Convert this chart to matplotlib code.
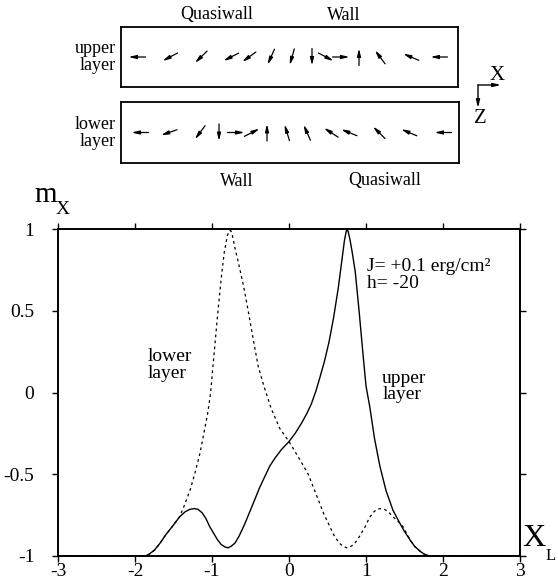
import numpy as np
import matplotlib
matplotlib.use("Agg")
import matplotlib.pyplot as plt

plt.rcParams['font.family'] = ['Liberation Serif', 'DejaVu Serif']
plt.rcParams['axes.unicode_minus'] = False

# m_x profile of the upper layer (solid) and lower layer (dashed) vs X_L
upper_x = [-3.0, -1.87, -1.82, -1.75, -1.68, -1.6, -1.5, -1.42, -1.35, -1.29, -1.23,
           -1.18, -1.13, -1.08, -1.03, -0.98, -0.93, -0.88, -0.83, -0.79, -0.75, -0.70,
           -0.65, -0.58, -0.51, -0.44, -0.38, -0.31, -0.25, -0.18, -0.10, 0.0, 0.08,
           0.16, 0.23, 0.29, 0.35, 0.40, 0.46, 0.52, 0.58, 0.64, 0.69, 0.72, 0.745,
           0.765, 0.79, 0.82, 0.86, 0.91, 0.96, 1.0, 1.05, 1.11, 1.18, 1.26, 1.35,
           1.44, 1.50, 1.57, 1.63, 1.70, 1.76, 1.83, 3.0]
upper_m = [-1.0, -1.0, -0.99, -0.965, -0.925, -0.87, -0.81, -0.76, -0.73, -0.715, -0.71,
           -0.715, -0.735, -0.77, -0.82, -0.86, -0.90, -0.93, -0.945, -0.95, -0.94, -0.92,
           -0.88, -0.81, -0.73, -0.65, -0.58, -0.51, -0.45, -0.40, -0.35, -0.30, -0.25,
           -0.19, -0.13, -0.07, 0.01, 0.09, 0.19, 0.31, 0.46, 0.64, 0.82, 0.93, 0.99,
           0.99, 0.94, 0.86, 0.74, 0.50, 0.24, 0.04, -0.09, -0.28, -0.45, -0.60, -0.72,
           -0.80, -0.85, -0.90, -0.94, -0.97, -0.99, -1.0, -1.0]

lower_x = [-3.0, -1.87, -1.82, -1.75, -1.68, -1.6, -1.5, -1.42, -1.35, -1.28, -1.22,
           -1.16, -1.11, -1.06, -1.02, -0.98, -0.93, -0.88, -0.84, -0.80, -0.775, -0.755,
           -0.73, -0.70, -0.66, -0.59, -0.53, -0.47, -0.40, -0.32, -0.23, -0.12, 0.0,
           0.14, 0.25, 0.35, 0.45, 0.51, 0.58, 0.65, 0.70, 0.75, 0.79, 0.84, 0.89,
           0.94, 0.99, 1.04, 1.09, 1.14, 1.19, 1.24, 1.29, 1.35, 1.42, 1.48, 1.57,
           1.63, 1.70, 1.76, 1.83, 3.0]
lower_m = [-1.0, -1.0, -0.99, -0.965, -0.925, -0.87, -0.81, -0.76, -0.68, -0.59, -0.49,
           -0.38, -0.26, -0.14, -0.01, 0.20, 0.46, 0.70, 0.86, 0.96, 0.99, 0.99,
           0.95, 0.88, 0.80, 0.65, 0.50, 0.34, 0.16, 0.03, -0.10, -0.22, -0.30,
           -0.41, -0.50, -0.62, -0.74, -0.80, -0.87, -0.92, -0.94, -0.95, -0.945, -0.93, -0.90,
           -0.86, -0.82, -0.77, -0.735, -0.715, -0.71, -0.715, -0.73, -0.76, -0.79, -0.82, -0.90,
           -0.94, -0.97, -0.99, -1.0, -1.0]

# spin directions sketched in the two layers (position along layer, angle in deg)
upper_pos = [16, 49, 80, 110, 128, 150, 171, 191, 205, 220, 238, 259, 290, 318]
upper_ang = [180, 208, 224, 207, 216, 246, 254, 270, 332, 0, 90, 127, 157, 180]
lower_pos = [19, 48, 79, 98, 115, 131, 146, 166, 186, 210, 228, 258, 288, 322]
lower_ang = [180, 199, 233, 270, 0, 27, 90, 107, 114, 147, 158, 135, 157, 180]

x_ticks = [-3, -2, -1, 0, 1, 2, 3]
y_ticks = [-1, -0.5, 0, 0.5, 1]
y_tick_labels = ['-1', '-0.5', '0', '0.5', '1']

W, H = 558, 585
fig = plt.figure(figsize=(W / 100, H / 100), dpi=100)


def px_axes(left, top, right, bottom):
    return fig.add_axes([left / W, 1 - bottom / H, (right - left) / W, (bottom - top) / H])


def draw_layer(ax, pos, ang, width, height):
    ax.set_xlim(0, width)
    ax.set_ylim(0, height)
    ax.set_xticks([])
    ax.set_yticks([])
    for s in ax.spines.values():
        s.set_linewidth(1.3)
    L = 17
    for p, a in zip(pos, ang):
        dx = np.cos(np.radians(a)) * L / 2
        dy = np.sin(np.radians(a)) * L / 2
        cy = height / 2
        ax.annotate('', xy=(p + dx, cy + dy), xytext=(p - dx, cy - dy),
                    arrowprops=dict(arrowstyle='-|>,head_length=0.5,head_width=0.12',
                                    lw=0.9, color='black', mutation_scale=9,
                                    shrinkA=0, shrinkB=0))


ax_up = px_axes(121, 27, 458, 87)
draw_layer(ax_up, upper_pos, upper_ang, 337, 60)
ax_lo = px_axes(121, 102, 459, 163)
draw_layer(ax_lo, lower_pos, lower_ang, 338, 61)

fs = 13
fig.text(217 / W, 1 - 15 / H, 'Quasiwall', ha='center', va='center', fontsize=fs)
fig.text(344 / W, 1 - 15 / H, 'Wall', ha='center', va='center', fontsize=fs)
fig.text(237 / W, 1 - 182 / H, 'Wall', ha='center', va='center', fontsize=fs)
fig.text(385 / W, 1 - 181 / H, 'Quasiwall', ha='center', va='center', fontsize=fs)
fig.text(116 / W, 1 - 57 / H, 'upper\nlayer', ha='right', va='center', fontsize=fs,
         linespacing=0.95)
fig.text(116 / W, 1 - 133 / H, 'lower\nlayer', ha='right', va='center', fontsize=fs,
         linespacing=0.95)

# small x/z frame symbol
ann = dict(arrowstyle='-|>,head_length=0.5,head_width=0.12', lw=1.0, color='black',
           mutation_scale=9, shrinkA=0, shrinkB=0)
fig.add_artist(matplotlib.patches.FancyArrowPatch((478, H - 85), (501, H - 85),
                                                  transform=None, **ann))
fig.add_artist(matplotlib.patches.FancyArrowPatch((478, H - 85), (478, H - 108),
                                                  transform=None, **ann))
fig.text(497 / W, 1 - 75 / H, 'X', ha='center', va='center', fontsize=15)
fig.text(480 / W, 1 - 119 / H, 'Z', ha='center', va='center', fontsize=15)

# main profile plot
ax = px_axes(58, 229, 520, 556)
ax.plot(upper_x, upper_m, color='black', lw=1.0)
ax.plot(lower_x, lower_m, color='black', lw=0.9, linestyle=(0, (2.2, 2.6)))
ax.set_xlim(-3, 3)
ax.set_ylim(-1, 1)
ax.set_xticks(x_ticks)
ax.set_yticks(y_ticks)
ax.set_yticklabels(y_tick_labels)
ax.tick_params(direction='out', length=4, width=1.0, labelsize=14,
               top=True, right=True)
ax.tick_params(axis='y', pad=13)
ax.tick_params(axis='x', pad=1)
for s in ax.spines.values():
    s.set_linewidth(1.4)

ax.text(1.01, 0.82, 'J= +0.1 erg/cm²\nh= -20', ha='left', va='top', fontsize=14,
        linespacing=1.0)
ax.text(-1.83, 0.27, 'lower\nlayer', ha='left', va='top', fontsize=14, linespacing=0.95)
ax.text(1.21, 0.14, 'upper\nlayer', ha='left', va='top', fontsize=14, linespacing=0.95)

fig.text(34 / W, 1 - 202 / H, 'm', ha='left', va='baseline', fontsize=21)
fig.text(56 / W, 1 - 214 / H, 'X', ha='left', va='baseline', fontsize=14)
fig.text(522 / W, 1 - 546 / H, 'X', ha='left', va='baseline', fontsize=23)
fig.text(546 / W, 1 - 560 / H, 'L', ha='left', va='baseline', fontsize=12)

fig.savefig('out.png', dpi=100)
